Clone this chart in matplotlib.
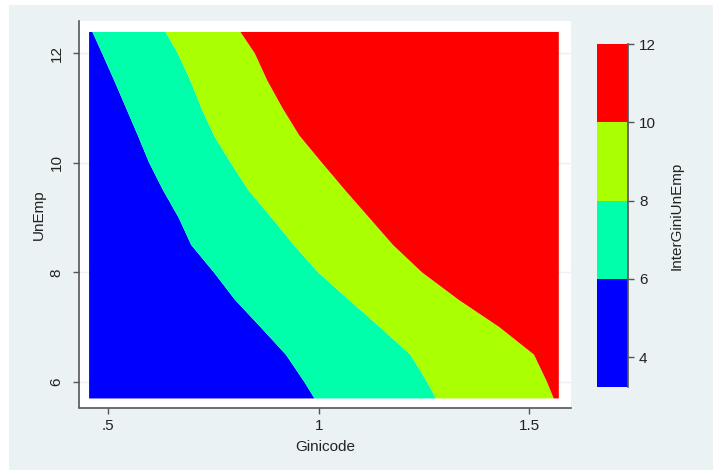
import numpy as np
import matplotlib
matplotlib.use("Agg")
import matplotlib.pyplot as plt
from matplotlib.patches import Rectangle
from matplotlib.lines import Line2D

plt.rcParams['font.family'] = ['Liberation Sans', 'DejaVu Sans']

# rows of UnEmp and where each contour level crosses the row (Ginicode)
unemp = [12.39, 12.0, 11.5, 11.0, 10.5, 10.0, 9.5, 9.0, 8.5, 8.0, 7.5, 7.0, 6.5, 6.0, 5.70]
gini_at6 = [0.462, 0.485, 0.514, 0.542, 0.570, 0.597, 0.630, 0.667, 0.697, 0.751, 0.801, 0.862, 0.922, 0.966, 0.990]
gini_at8 = [0.636, 0.665, 0.695, 0.721, 0.751, 0.791, 0.833, 0.888, 0.941, 0.999, 1.072, 1.146, 1.218, 1.258, 1.279]
gini_at10 = [0.814, 0.848, 0.878, 0.914, 0.954, 1.008, 1.063, 1.120, 1.177, 1.246, 1.333, 1.430, 1.512, 1.543, 1.559]
# estimated values at the left / right edge of the data
z_left = [5.85, 5.7, 5.55, 5.4, 5.2, 5.0, 4.8, 4.6, 4.4, 4.2, 4.0, 3.8, 3.6, 3.4, 3.24]
z_right = [12.0, 11.9, 11.8, 11.7, 11.6, 11.5, 11.4, 11.3, 11.2, 11.1, 10.9, 10.7, 10.5, 10.3, 10.2]
gini_min, gini_max = 0.454, 1.571

levels = [3.24, 6, 8, 10, 12]
colors = ['#0000FF', '#00FFAA', '#AAFF00', '#FF0000']
bg = '#EAF2F3'
axis_col = '#555555'

n = len(unemp)
X = np.column_stack([np.full(n, gini_min), gini_at6, gini_at8, gini_at10, np.full(n, gini_max)])
Y = np.repeat(np.array(unemp)[:, None], 5, axis=1)
Z = np.column_stack([z_left, np.full(n, 6.0), np.full(n, 8.0), np.full(n, 10.0), z_right])

fig = plt.figure(figsize=(7.13, 4.70), dpi=100, facecolor='white')
fig.patches.append(Rectangle((9 / 713, 0), 1, 1 - 5 / 470, transform=fig.transFigure,
                             facecolor=bg, edgecolor='none', zorder=-10))

ax = fig.add_axes([79 / 713, 1 - 407.5 / 470, 492 / 713, 386.5 / 470])
ax.set_facecolor('white')
cs = ax.contourf(X, Y, Z, levels=levels, colors=colors, antialiased=True)

ax.set_xlim(0.430, 1.600)
ax.set_ylim(5.535, 12.59)
ax.set_axisbelow(True)
ax.yaxis.grid(True, color=bg, linewidth=1)
for s in ['top', 'right']:
    ax.spines[s].set_visible(False)
for s in ['left', 'bottom']:
    ax.spines[s].set_color(axis_col)
    ax.spines[s].set_linewidth(1.2)

ax.set_xticks([0.5, 1, 1.5])
ax.set_xticklabels(['.5', '1', '1.5'])
ax.set_yticks([6, 8, 10, 12])
ax.set_yticklabels(['6', '8', '10', '12'], rotation=90, va='center')
ax.tick_params(axis='both', direction='out', length=4, width=1, color=axis_col, labelsize=11, labelcolor='#222222')
ax.tick_params(axis='y', pad=7)
ax.tick_params(axis='x', pad=4)

ax.set_xlabel('Ginicode', fontsize=11, color='#222222')
ax.xaxis.set_label_coords(0.5, -0.083)
ax.set_ylabel('UnEmp', fontsize=11, color='#222222')
ax.yaxis.set_label_coords(-0.068, 0.5)

cax = fig.add_axes([597 / 713, 1 - 387 / 470, 31 / 713, 343 / 470])
cbar = fig.colorbar(cs, cax=cax, spacing='proportional', ticks=[4, 6, 8, 10, 12])
cbar.outline.set_visible(False)
cax.add_line(Line2D([1, 1], [0, 1], transform=cax.transAxes, color=axis_col, linewidth=1.2, clip_on=False))
cax.tick_params(direction='out', length=4, width=1, color=axis_col, labelsize=11, labelcolor='#222222', pad=4)
fig.text(677 / 713, 1 - 215.5 / 470, 'InterGiniUnEmp', rotation=90, ha='center', va='center',
         fontsize=11, color='#222222')

fig.savefig('out.png', dpi=100, facecolor=fig.get_facecolor())
